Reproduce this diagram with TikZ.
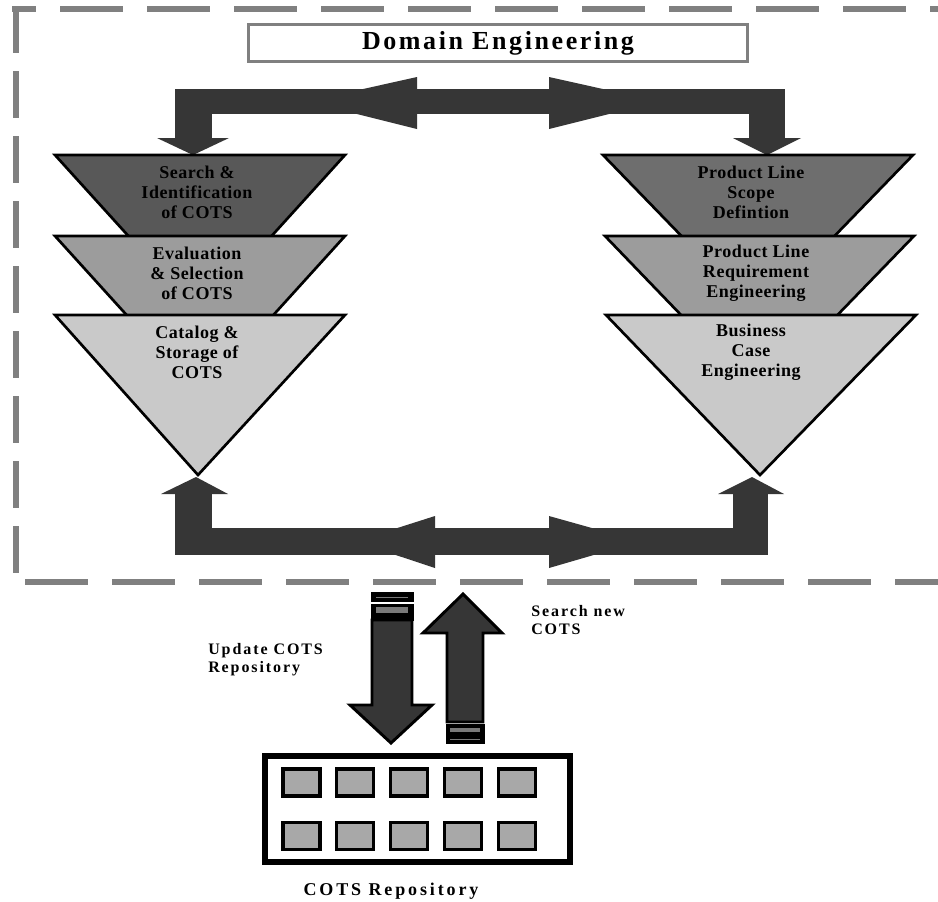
\documentclass[tikz,border=0pt]{standalone}
\usepackage{fontspec}
\setmainfont{Liberation Serif}
\newfontfamily\trifont[LetterSpace=3]{Liberation Serif}
\newfontfamily\titlefont[LetterSpace=10]{Liberation Serif}
\newfontfamily\labfont[LetterSpace=12]{Liberation Serif}
\newfontfamily\repfont[LetterSpace=16]{Liberation Serif}
\definecolor{arrowdark}{HTML}{363636}
\definecolor{frameg}{HTML}{808080}
\definecolor{triAl}{HTML}{585858}
\definecolor{triAr}{HTML}{6E6E6E}
\definecolor{triB}{HTML}{9C9C9C}
\definecolor{triC}{HTML}{C9C9C9}
\definecolor{sqfill}{HTML}{A8A8A8}
\definecolor{stripe}{HTML}{7A7A7A}
\tikzset{
  frameline/.style={draw=frameg, line width=4.5pt},
  tritext/.style={align=center, inner sep=0pt, font=\trifont\bfseries\fontsize{13.5}{15}\selectfont},
  labtext/.style={align=left, inner sep=0pt, font=\labfont\bfseries\fontsize{12}{13.5}\selectfont},
  tri/.style={draw=black, line width=2pt},
  blockarrow/.style={fill=arrowdark},
  outarrow/.style={fill=arrowdark, draw=black, line width=2.2pt},
  sqbox/.style={draw=black, fill=sqfill, line width=2.6pt, minimum width=28pt, minimum height=20pt, inner sep=0pt},
}
\begin{document}
\begin{tikzpicture}[x=0.75pt, y=-0.75pt]
\fill[white] (0,0) rectangle (938,901);
\useasboundingbox (0,0) rectangle (938,901);
% dashed frame
\draw[frameline, dash pattern=on 47.25pt off 18pt, dash phase=29.25pt] (12,9) -- (938,9);
\draw[frameline, dash pattern=on 35.25pt off 13.5pt] (16,6) -- (16,575);
\draw[frameline, dash pattern=on 47.25pt off 18pt] (25,582) -- (938,582);
% title
\node[draw=frameg, line width=2.6pt, fill=white, minimum width=374pt, minimum height=28pt, inner sep=0pt,
      font=\titlefont\bfseries\fontsize{19.5}{22}\selectfont] (title) at (498,43) {Domain Engineering};
% top block arrow
\coordinate (tl) at (193,155);
\coordinate (tr) at (767,155);
\fill[blockarrow] (175,89) rectangle (785,114);
\fill[blockarrow] (175,89) rectangle (212,139);
\fill[blockarrow] (749,89) rectangle (785,139);
\fill[blockarrow] (157,138) -- (229,138) -- (tl) -- cycle;
\fill[blockarrow] (733,138) -- (801,138) -- (tr) -- cycle;
\fill[blockarrow] (417,77) -- (307,101.5) -- (417,129) -- cycle;
\fill[blockarrow] (549,77) -- (659,101.5) -- (549,129) -- cycle;
% bottom block arrow
\coordinate (bl) at (196,477);
\coordinate (br) at (752,477);
\fill[blockarrow] (175,528) rectangle (768,555);
\fill[blockarrow] (175,493) rectangle (212,555);
\fill[blockarrow] (733,493) rectangle (768,555);
\fill[blockarrow] (161,494) -- (228,494) -- (bl) -- cycle;
\fill[blockarrow] (718,494) -- (784,494) -- (br) -- cycle;
\fill[blockarrow] (435,516) -- (355,541.5) -- (435,568) -- cycle;
\fill[blockarrow] (549,516) -- (640,541.5) -- (549,568) -- cycle;
% left triangles
\filldraw[tri, fill=triAl] (55,155) -- (345,155) -- (200,315) -- cycle;
\filldraw[tri, fill=triB] (55,236) -- (345,236) -- (200,396) -- cycle;
\filldraw[tri, fill=triC] (55,315) -- (345,315) -- (198,475) -- cycle;
% right triangles
\filldraw[tri, fill=triAr] (603,155) -- (913,155) -- (758,315) -- cycle;
\filldraw[tri, fill=triB] (605,236) -- (914,236) -- (759,396) -- cycle;
\filldraw[tri, fill=triC] (606,315) -- (916,315) -- (760,475) -- cycle;
% triangle texts
\node[tritext] (l1) at (197,192) {Search \&\\Identification\\of COTS};
\node[tritext] (l2) at (197,273) {Evaluation\\\& Selection\\of COTS};
\node[tritext] (l3) at (197,352) {Catalog \&\\Storage of\\COTS};
\node[tritext] (r1) at (751,192) {Product Line\\Scope\\Defintion};
\node[tritext] (r2) at (756,273) {Product Line\\Requirement\\Engineering};
\node[tritext] (r3) at (751,352) {Business\\Case\\Engineering};
% down arrow (update)
\fill[black] (370.5,592) rectangle (413.5,602);
\draw[stripe, line width=1pt] (376,597.5) -- (408,597.5);
\fill[black] (370.5,604) rectangle (413.5,621);
\fill[stripe] (376,607) rectangle (408,613);
\filldraw[outarrow] (372,620) -- (412,620) -- (412,705) -- (432,705) -- (391,743) -- (350,705) -- (372,705) -- cycle;
% up arrow (search)
\filldraw[outarrow] (447,722) -- (447,633) -- (423,633) -- (463,594) -- (502,633) -- (483,633) -- (483,722) -- cycle;
\fill[black] (445.5,724) rectangle (484.5,744);
\fill[stripe] (450,727.5) rectangle (480,732);
\draw[stripe, line width=1pt] (450,739.5) -- (480,739.5);
% labels
\node[labtext, anchor=west] (upd) at (208,660) {Update COTS\\Repository};
\node[labtext, anchor=west] (srch) at (531,620) {Search new\\COTS};
% repository
\node[draw=black, line width=4.5pt, minimum width=228.75pt, minimum height=79.5pt, inner sep=0pt] (repo) at (417.5,809) {};
\foreach \cx [count=\i] in {301.5,355,409,463,517}{
  \node[sqbox] (sa\i) at (\cx,782.5) {};
  \node[sqbox] (sb\i) at (\cx,836) {};
}
\node[inner sep=0pt, font=\repfont\bfseries\fontsize{13.5}{15}\selectfont] (reptext) at (391,891) {COTS Repository};
\end{tikzpicture}
\end{document}
